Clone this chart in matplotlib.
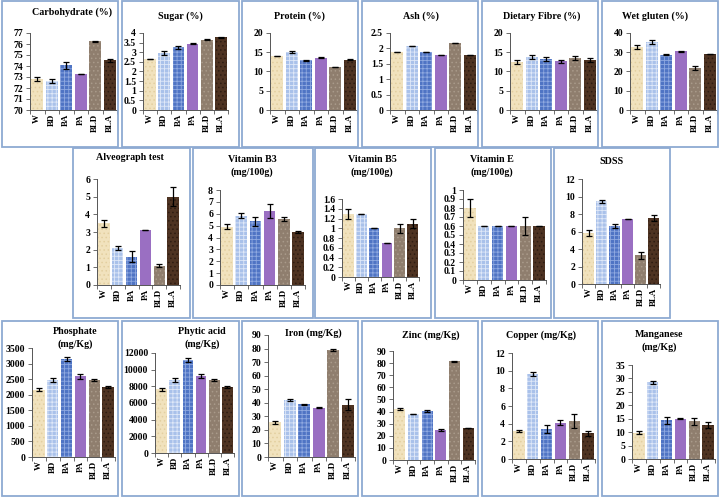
import numpy as np
import matplotlib
matplotlib.use('Agg')
import matplotlib.pyplot as plt
from matplotlib.patches import Rectangle

plt.rcParams['font.family'] = ['Liberation Serif', 'DejaVu Serif']
plt.rcParams['font.weight'] = 'bold'
plt.rcParams['hatch.linewidth'] = 0.6

groups = ['W', 'BD', 'BA', 'PA', 'BLD', 'BLA']

carb = [72.8, 72.65, 74.05, 73.3, 76.25, 74.5]
carb_err = [0.2, 0.15, 0.3, 0.0, 0.05, 0.15]
sugar = [2.65, 2.95, 3.25, 3.45, 3.65, 3.78]
sugar_err = [0.02, 0.1, 0.1, 0.02, 0.02, 0.02]
protein = [14.0, 15.0, 12.9, 13.6, 11.1, 13.1]
protein_err = [0.1, 0.2, 0.2, 0.2, 0.05, 0.1]
ash = [1.88, 2.08, 1.88, 1.78, 2.18, 1.78]
ash_err = [0.01, 0.01, 0.01, 0.0, 0.01, 0.0]
fibre = [12.5, 13.7, 13.3, 12.6, 13.5, 13.0]
fibre_err = [0.5, 0.5, 0.5, 0.5, 0.4, 0.5]
gluten = [32.8, 35.5, 28.8, 30.4, 21.8, 29.2]
gluten_err = [1.0, 1.0, 0.2, 0.4, 1.0, 0.1]
alveo = [3.5, 2.1, 1.6, 3.1, 1.1, 5.0]
alveo_err = [0.2, 0.1, 0.3, 0.0, 0.1, 0.55]
vit_b3 = [4.9, 5.85, 5.35, 6.2, 5.55, 4.45]
vit_b3_err = [0.2, 0.2, 0.4, 0.6, 0.2, 0.1]
vit_b5 = [1.3, 1.3, 1.0, 0.7, 1.0, 1.09]
vit_b5_err = [0.1, 0.0, 0.0, 0.0, 0.09, 0.09]
vit_e = [0.8, 0.6, 0.6, 0.6, 0.6, 0.6]
vit_e_err = [0.1, 0.0, 0.0, 0.0, 0.1, 0.0]
sdss = [5.8, 9.45, 6.65, 7.45, 3.3, 7.55]
sdss_err = [0.35, 0.2, 0.2, 0.0, 0.4, 0.3]
phosphate = [2160, 2470, 3150, 2590, 2480, 2250]
phosphate_err = [40, 70, 70, 90, 40, 40]
phytic = [7650, 8750, 11200, 9200, 8800, 7950]
phytic_err = [150, 250, 250, 250, 100, 150]
iron = [25.5, 42.3, 38.8, 36.2, 79.0, 38.5]
iron_err = [1.0, 0.7, 0.6, 0.4, 1.0, 4.0]
zinc = [42.0, 38.0, 40.5, 24.8, 81.5, 26.5]
zinc_err = [1.0, 0.2, 0.5, 0.8, 0.2, 0.1]
copper = [3.2, 9.6, 3.4, 4.1, 4.3, 2.9]
copper_err = [0.1, 0.25, 0.45, 0.3, 0.8, 0.25]
manganese = [9.8, 28.5, 14.5, 15.0, 14.0, 12.6]
manganese_err = [0.5, 0.5, 1.3, 0.1, 1.2, 1.0]

face = ['#f1e2bd', '#a9c1ea', '#4f74c4', '#9a6fc2', '#8f7e6e', '#4e3322']
hatch = ['....', '++++', '++++', None, '....', '....']
hcol = ['#e3cfa0', '#dfe8f8', '#8fa9e0', '#9a6fc2', '#a99a8a', '#2e1c12']

W, H = 720, 498
fig = plt.figure(figsize=(7.2, 4.98), dpi=100)

# boxes (x0, y0, x1, y1) in pixels
boxes = [(2, 1, 118, 147), (122, 1, 239, 147), (242, 1, 358, 147), (362, 1, 478, 147),
         (482, 1, 598, 147), (602, 1, 718, 147),
         (73, 148, 190, 318), (193, 148, 313, 318), (315, 148, 431, 318),
         (435, 148, 551, 318), (554, 148, 670, 318),
         (2, 321, 118, 496), (122, 321, 239, 496), (242, 321, 358, 496), (362, 321, 478, 496),
         (482, 321, 598, 496), (602, 321, 718, 496)]
for x0, y0, x1, y1 in boxes:
    fig.patches.append(Rectangle((x0 / W, 1 - y1 / H), (x1 - x0) / W, (y1 - y0) / H,
                                 transform=fig.transFigure, fill=False,
                                 edgecolor='#8eaad2', lw=1.3))

# panel: title, values, errors, ylim, step, axis rect (xl, ytop, xr, ybot), title xy
panels = [
    ('Carbohydrate (%)', carb, carb_err, (70, 77), 1, (30, 33, 117, 110), (72, 12)),
    ('Sugar (%)', sugar, sugar_err, (0, 4), 0.5, (143, 33, 228, 110), (180, 16)),
    ('Protein (%)', protein, protein_err, (0, 20), 5, (270, 33, 357, 110), (300, 16)),
    ('Ash (%)', ash, ash_err, (0, 2.5), 0.5, (390, 33, 477, 110), (421, 16)),
    ('Dietary Fibre (%)', fibre, fibre_err, (0, 20), 5, (510, 33, 597, 110), (542, 16)),
    ('Wet gluten (%)', gluten, gluten_err, (0, 40), 10, (630, 33, 717, 110), (655, 16)),
    ('Alveograph test', alveo, alveo_err, (0, 6), 1, (97, 179, 180, 285), (130, 158)),
    ('Vitamin B3\n(mg/100g)', vit_b3, vit_b3_err, (0, 8), 1, (220, 190, 305, 285), (252, 166)),
    ('Vitamin B5\n(mg/100g)', vit_b5, vit_b5_err, (0, 1.6), 0.2, (342, 199, 419, 277), (372, 166)),
    ('Vitamin E\n(mg/100g)', vit_e, vit_e_err, (0, 1), 0.1, (463, 190, 546, 280), (492, 166)),
    ('SDSS', sdss, sdss_err, (0, 12), 2, (582, 179, 660, 284), (612, 161)),
    ('Phosphate\n(mg/Kg)', phosphate, phosphate_err, (0, 3500), 500, (32, 348, 115, 457), (75, 338)),
    ('Phytic acid\n(mg/Kg)', phytic, phytic_err, (0, 12000), 2000, (155, 353, 234, 453), (202, 338)),
    ('Iron (mg/Kg)', iron, iron_err, (0, 90), 10, (268, 335, 355, 457), (313, 333)),
    ('Zinc (mg/Kg)', zinc, zinc_err, (0, 90), 10, (393, 351, 475, 460), (431, 335)),
    ('Copper (mg/Kg)', copper, copper_err, (0, 12), 2, (512, 353, 595, 459), (541, 335)),
    ('Manganese\n(mg/Kg)', manganese, manganese_err, (0, 35), 5, (632, 365, 715, 459), (659, 341)),
]

x = np.arange(len(groups))
for title, vals, errs, (lo, hi), step, (xl, yt, xr, yb), (tx, ty) in panels:
    ax = fig.add_axes([xl / W, 1 - yb / H, (xr - xl) / W, (yb - yt) / H])
    ax.set_facecolor('none')
    for i in range(len(groups)):
        ax.bar(x[i], vals[i] - lo, bottom=lo, width=0.82, color=face[i],
               hatch=hatch[i], edgecolor=hcol[i], linewidth=0, zorder=2)
    ax.errorbar(x, vals, yerr=errs, fmt='none', ecolor='black', elinewidth=0.9,
                capsize=2.2, capthick=0.9, zorder=3)
    ax.set_xlim(-0.5, 5.5)
    ax.set_ylim(lo, hi)
    ticks = np.arange(lo, hi + step / 2, step)
    ax.set_yticks(ticks)
    ax.set_yticklabels([('%g' % round(v, 3)) for v in ticks], fontsize=7, fontweight='bold')
    ax.set_xticks(x)
    ax.set_xticklabels(groups, rotation=90, fontsize=6.4, fontweight='bold')
    ax.set_xticks(np.arange(-0.5, 6, 1), minor=True)
    ax.tick_params(axis='x', which='major', length=0, pad=3)
    ax.tick_params(axis='x', which='minor', length=3, width=0.6, color='#555555')
    ax.tick_params(axis='y', length=3, width=0.6, color='#555555', pad=2)
    for s in ['top', 'right']:
        ax.spines[s].set_visible(False)
    for s in ['left', 'bottom']:
        ax.spines[s].set_color('#555555')
        ax.spines[s].set_linewidth(0.7)
    fig.text(tx / W, 1 - ty / H, title, ha='center', va='center', fontsize=7.2,
             fontweight='bold', linespacing=1.35)

fig.savefig('out.png', dpi=100, facecolor='white')
